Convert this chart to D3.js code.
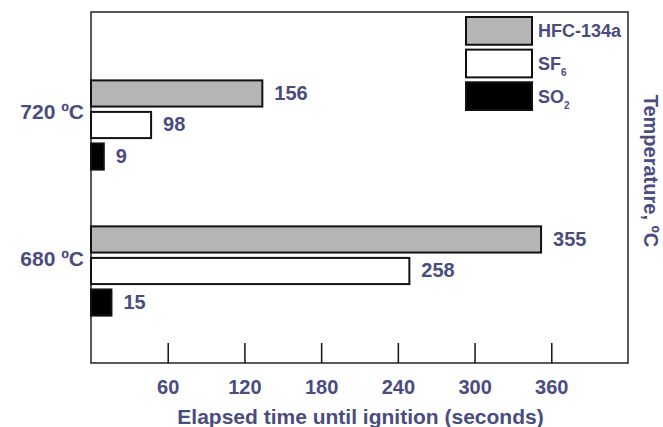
<!DOCTYPE html>
<html>
<head>
<meta charset="utf-8">
<script src="https://cdn.jsdelivr.net/npm/d3@7"></script>
<style>
  body { margin: 0; background: #fff; }
  text { font-family: "Liberation Sans", Arial, sans-serif; font-weight: bold; fill: #4a4c80; }
</style>
</head>
<body>
<div id="graph"></div>
<script>
// data
var groups = ["720 ºC", "680 ºC"];
var series = ["HFC-134a", "SF6", "SO2"];
// bar lengths as drawn (seconds)
var barHFC = [134, 352];
var barSF6 = [47, 249];
var barSO2 = [10, 16];
// value labels printed beside the bars
var labelHFC = ["156", "355"];
var labelSF6 = ["98", "258"];
var labelSO2 = ["9", "15"];
var xTicks = [60, 120, 180, 240, 300, 360];

var fills = {"HFC-134a": "#b5b5b5", "SF6": "#ffffff", "SO2": "#000000"};

var width = 663, height = 427;
var margin = {top: 12, right: 35, bottom: 64, left: 91};
var w = width - margin.left - margin.right,
    h = height - margin.top - margin.bottom;

var svg = d3.select("#graph").append("svg")
    .attr("width", width)
    .attr("height", height);

var g = svg.append("g").attr("transform", "translate(" + margin.left + "," + margin.top + ")");

var x = d3.scaleLinear().domain([0, 420]).range([0, w]);

var y0 = d3.scaleBand().domain(groups).range([40, 332]);
var y1 = d3.scaleBand().domain(series).range([0, y0.bandwidth()])
    .paddingInner(0.17).paddingOuter(0.9);

var rows = [];
groups.forEach(function(gr, i) {
  rows.push({group: gr, s: "HFC-134a", v: barHFC[i], label: labelHFC[i]});
  rows.push({group: gr, s: "SF6", v: barSF6[i], label: labelSF6[i]});
  rows.push({group: gr, s: "SO2", v: barSO2[i], label: labelSO2[i]});
});

// frame
g.append("rect")
    .attr("width", w).attr("height", h)
    .attr("fill", "none").attr("stroke", "#222").attr("stroke-width", 1.5);

// bars
g.selectAll(".bar").data(rows).enter().append("rect")
    .attr("class", "bar")
    .attr("x", 0)
    .attr("y", function(d) { return y0(d.group) + y1(d.s); })
    .attr("width", function(d) { return x(d.v); })
    .attr("height", y1.bandwidth())
    .attr("fill", function(d) { return fills[d.s]; })
    .attr("stroke", "#111").attr("stroke-width", 2);

g.selectAll(".val").data(rows).enter().append("text")
    .attr("class", "val")
    .attr("x", function(d) { return x(d.v) + 12; })
    .attr("y", function(d) { return y0(d.group) + y1(d.s) + y1.bandwidth() / 2; })
    .attr("dy", "0.32em")
    .attr("font-size", 20)
    .text(function(d) { return d.label; });

// x axis, ticks pointing inward
var xAxis = d3.axisBottom(x).tickValues(xTicks).tickSize(-20).tickPadding(14);
g.append("g")
    .attr("transform", "translate(0," + h + ")")
    .call(customXAxis);

function customXAxis(g) {
  g.call(xAxis);
  g.select(".domain").remove();
  g.selectAll(".tick line").attr("stroke", "#111").attr("stroke-width", 1.5);
  g.selectAll(".tick text").attr("font-size", 20).attr("font-family", null).attr("fill", null)
      .attr("y", 17).attr("dy", "0.71em");
}

// group labels
g.selectAll(".grp").data(groups).enter().append("text")
    .attr("x", -7)
    .attr("y", function(d, i) { return y0(d) + y1("SF6") + i; })
    .attr("dy", "0.36em")
    .attr("text-anchor", "end")
    .attr("font-size", 21)
    .text(function(d) { return d; });

// axis titles
svg.append("text")
    .attr("x", margin.left + w / 2 + 1)
    .attr("y", 424)
    .attr("text-anchor", "middle")
    .attr("font-size", 21)
    .text("Elapsed time until ignition (seconds)");

svg.append("text")
    .attr("transform", "translate(644,171) rotate(90)")
    .attr("text-anchor", "middle")
    .attr("font-size", 20)
    .text("Temperature, ºC");

// legend
var legend = g.append("g").attr("transform", "translate(375,5)");
var ly = d3.scaleBand().domain(series).range([0, 93]).paddingInner(0.15);
legend.selectAll("rect").data(series).enter().append("rect")
    .attr("x", 0)
    .attr("y", function(d) { return ly(d); })
    .attr("width", 66)
    .attr("height", ly.bandwidth())
    .attr("fill", function(d) { return fills[d]; })
    .attr("stroke", "#111").attr("stroke-width", 2);

var lt = legend.selectAll(".lt").data(series).enter().append("text")
    .attr("x", 72)
    .attr("y", function(d) { return ly(d) + ly.bandwidth() / 2; })
    .attr("dy", "0.36em")
    .attr("font-size", 18);
lt.each(function(d) {
  var t = d3.select(this);
  var m = d.match(/^([A-Z]+)(\d)$/);
  if (m && d !== "HFC-134a") {
    t.append("tspan").text(m[1]);
    t.append("tspan").attr("font-size", 10).attr("dy", 6).text(m[2]);
  } else {
    t.text(d);
  }
});
</script>
</body>
</html>
